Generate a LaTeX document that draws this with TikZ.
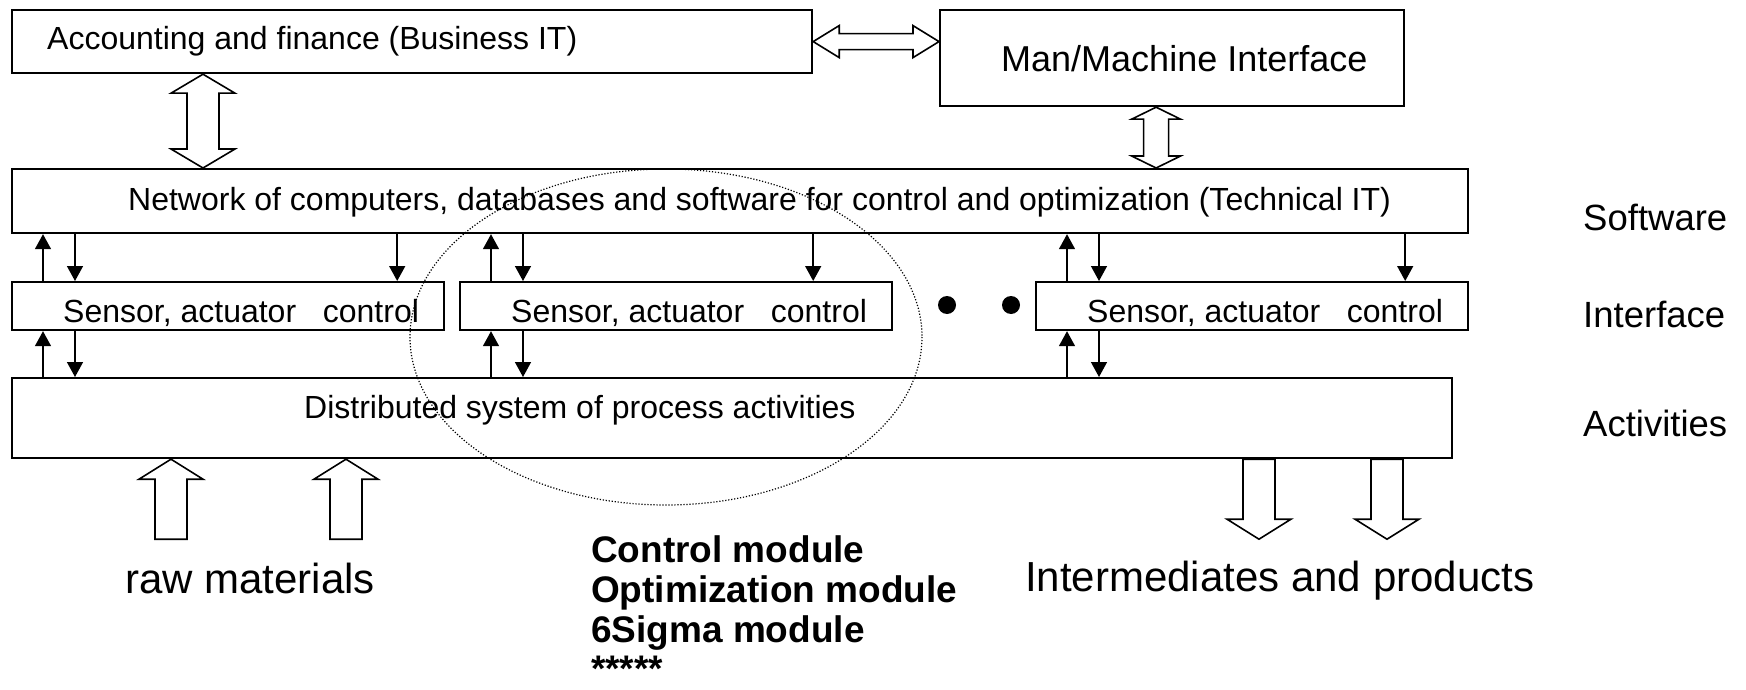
\documentclass[tikz,border=0pt]{standalone}
\usepackage{fontspec}
\setmainfont{Liberation Sans}
\usetikzlibrary{arrows.meta,calc}

% Outlined block arrows, built from two named end points.
% Arguments: end 1, end 2, shaft half width, head half width, head length.
\newcommand{\BlkDoubleV}[5]{% end 1 above, end 2 below
  \draw[blockarrow] let \p1=(#1), \p2=(#2) in
    (\x1,\y1) -- (\x1+#4,\y1-#5) -- (\x1+#3,\y1-#5) -- (\x1+#3,\y2+#5)
    -- (\x1+#4,\y2+#5) -- (\x1,\y2) -- (\x1-#4,\y2+#5) -- (\x1-#3,\y2+#5)
    -- (\x1-#3,\y1-#5) -- (\x1-#4,\y1-#5) -- cycle;}
\newcommand{\BlkDoubleH}[5]{% end 1 left, end 2 right
  \draw[blockarrow] let \p1=(#1), \p2=(#2) in
    (\x1,\y1) -- (\x1+#5,\y1+#4) -- (\x1+#5,\y1+#3) -- (\x2-#5,\y1+#3)
    -- (\x2-#5,\y1+#4) -- (\x2,\y1) -- (\x2-#5,\y1-#4) -- (\x2-#5,\y1-#3)
    -- (\x1+#5,\y1-#3) -- (\x1+#5,\y1-#4) -- cycle;}
\newcommand{\BlkUp}[5]{% tip above, tail below
  \draw[blockarrow] let \p1=(#1), \p2=(#2) in
    (\x1,\y1) -- (\x1+#4,\y1-#5) -- (\x1+#3,\y1-#5) -- (\x1+#3,\y2)
    -- (\x1-#3,\y2) -- (\x1-#3,\y1-#5) -- (\x1-#4,\y1-#5) -- cycle;}
\newcommand{\BlkDown}[5]{% tip below, tail above
  \draw[blockarrow] let \p1=(#1), \p2=(#2) in
    (\x1,\y1) -- (\x1+#4,\y1+#5) -- (\x1+#3,\y1+#5) -- (\x1+#3,\y2)
    -- (\x1-#3,\y2) -- (\x1-#3,\y1+#5) -- (\x1-#4,\y1+#5) -- cycle;}

\begin{document}
\begin{tikzpicture}[x=1pt,y=-1pt,
  box/.style={draw, line width=2.2pt, rectangle, inner sep=0pt, anchor=north west},
  txt/.style={inner sep=0pt, anchor=base west, font=\fontsize{32}{38}\selectfont},
  layer/.style={inner sep=0pt, anchor=base west, font=\fontsize{36.5}{44}\selectfont},
  biglabel/.style={inner sep=0pt, anchor=base west, font=\fontsize{42}{50}\selectfont},
  module/.style={inner sep=0pt, anchor=base west, font=\bfseries\fontsize{37}{43}\selectfont},
  blockarrow/.style={draw, fill=white, line width=1.6pt, line join=miter},
  sarrow/.style={line width=1.5pt, -{Triangle[length=15pt,width=16pt]}},
  zone/.style={line width=1.2pt, dash pattern=on 1.2pt off 1.8pt},
  dot/.style={circle, fill, inner sep=0pt, minimum size=18pt}]
\useasboundingbox (0,0) rectangle (1746,690);

% boxes
\node[box, minimum width=800pt,  minimum height=63pt] (acc)  at (11,9)    {};
\node[box, minimum width=464pt,  minimum height=96pt] (mmi)  at (939,9)   {};
\node[box, minimum width=1456pt, minimum height=64pt] (net)  at (11,168)  {};
\node[box, minimum width=432pt,  minimum height=48pt] (s1)   at (11,281)  {};
\node[box, minimum width=432pt,  minimum height=48pt] (s2)   at (459,281) {};
\node[box, minimum width=432pt,  minimum height=48pt] (s3)   at (1035,281) {};
\node[box, minimum width=1440pt, minimum height=80pt] (dist) at (11,377)  {};

% box texts
\node[txt] (acctxt) at (47,50) {Accounting and finance (Business IT)};
\node[txt, font=\fontsize{36}{43}\selectfont] (mmitxt) at (1001,72) {Man/Machine Interface};
\node[txt] (nettxt) at (128,210.5) {Network of computers, databases and software for control and optimization (Technical IT)};
\node[txt] (s1txt) at (63,322)   {Sensor, actuator\ \ \ control};
\node[txt] (s2txt) at (511,322)  {Sensor, actuator\ \ \ control};
\node[txt] (s3txt) at (1087,322) {Sensor, actuator\ \ \ control};
\node[txt] (disttxt) at (304,418) {Distributed system of process activities};

% ellipsis between the sensor boxes
\node[dot] (dot1) at (947,305) {};
\node[dot] (dot2) at (1011,305) {};

% layer names
\node[layer] (lsoft)  at (1583,230) {Software};
\node[layer] (linter) at (1583,327) {Interface};
\node[layer] (lact)   at (1583,436) {Activities};

% signal arrows between the layers
\foreach \b/\r in {s1/48,s2/80,s3/64} {
  \coordinate (\b-up) at ([xshift=32pt]\b.north west);
  \coordinate (\b-dn) at ([xshift=64pt]\b.north west);
  \coordinate (\b-rt) at ([xshift=-\r pt]\b.north east);
  \coordinate (\b-lu) at ([xshift=32pt]\b.south west);
  \coordinate (\b-ld) at ([xshift=64pt]\b.south west);
  \draw[sarrow] (\b-up) -- (\b-up |- net.south);
  \draw[sarrow] (\b-dn |- net.south) -- (\b-dn);
  \draw[sarrow] (\b-rt |- net.south) -- (\b-rt);
  \draw[sarrow] (\b-lu |- dist.north) -- (\b-lu);
  \draw[sarrow] (\b-ld) -- (\b-ld |- dist.north);
}

% block arrows
\coordinate (aa1) at ([xshift=192pt]acc.south west);
\coordinate (aa2) at (aa1 |- net.north);
\BlkDoubleV{aa1}{aa2}{16pt}{32pt}{19pt}

\coordinate (mm1) at ([xshift=-16pt]mmi.south);
\coordinate (mm2) at (mm1 |- net.north);
\BlkDoubleV{mm1}{mm2}{12.5pt}{24.5pt}{12pt}

\coordinate (am1) at (acc.east);
\coordinate (am2) at (mmi.west |- am1);
\BlkDoubleH{am1}{am2}{8pt}{16pt}{26pt}

\coordinate (r1) at ([xshift=160pt]dist.south west);
\coordinate (r1t) at ($(r1)+(0,80)$);
\BlkUp{r1}{r1t}{16pt}{32pt}{20pt}
\coordinate (r2) at ([xshift=335pt]dist.south west);
\coordinate (r2t) at ($(r2)+(0,80)$);
\BlkUp{r2}{r2t}{16pt}{32pt}{20pt}

\coordinate (o1t) at ([xshift=1248pt]dist.south west);
\coordinate (o1) at ($(o1t)+(0,80)$);
\BlkDown{o1}{o1t}{16pt}{32pt}{20pt}
\coordinate (o2t) at ([xshift=1376pt]dist.south west);
\coordinate (o2) at ($(o2t)+(0,80)$);
\BlkDown{o2}{o2t}{16pt}{32pt}{20pt}

% inputs and outputs
\node[biglabel] (raw) at (125,593) {raw materials};
\node[biglabel] (prod) at (1025,591) {Intermediates and products};

% modules of the control unit
\node[module] (m1) at (591,562) {Control module};
\node[module] (m2) at (591,602) {Optimization module};
\node[module] (m3) at (591,642) {6Sigma module};
\node[module] (m4) at (591,681) {*****};

% control unit zone
\draw[zone] (666,337) ellipse [x radius=256, y radius=168];
\end{tikzpicture}
\end{document}
